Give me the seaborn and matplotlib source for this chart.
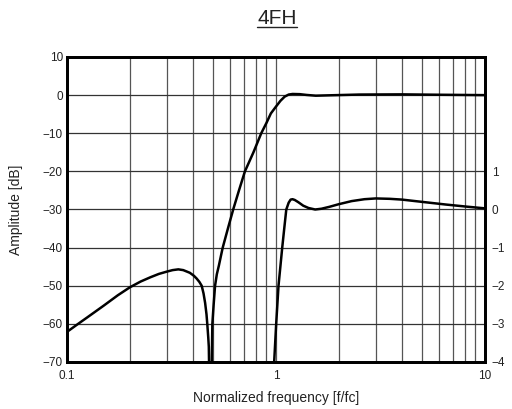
import matplotlib
matplotlib.use("Agg")
import matplotlib.pyplot as plt
import seaborn as sns
import pandas as pd
from matplotlib.ticker import FixedLocator, NullFormatter, FixedFormatter
from matplotlib.lines import Line2D

# ---- data ----
amp_f = [0.1, 0.113, 0.125, 0.15, 0.175, 0.2, 0.225, 0.25, 0.275, 0.3, 0.32,
         0.341, 0.36, 0.387, 0.405, 0.417, 0.43, 0.441, 0.45, 0.458, 0.465,
         0.469, 0.474, 0.477, 0.4875, 0.4935, 0.496, 0.503, 0.511, 0.521, 0.533,
         0.545, 0.556, 0.59, 0.624, 0.665, 0.71, 0.78, 0.85, 0.9, 0.945, 1.0,
         1.05, 1.1, 1.15, 1.2, 1.3, 1.4, 1.55, 1.8, 2.5, 4.0, 6.0, 10.0]
amp_db = [-62.1, -60.0, -58.3, -55.2, -52.5, -50.4, -48.9, -47.8, -46.9, -46.3,
          -45.9, -45.7, -45.9, -46.6, -47.4, -48.1, -49.0, -50.0, -52.0, -54.5,
          -57.5, -60.0, -63.5, -66.0, -100.0, -68.0, -60.0, -55.0, -50.0, -47.0,
          -44.7, -42.2, -40.0, -34.8, -30.0, -25.0, -20.0, -15.0, -10.0, -7.3,
          -4.8, -3.0, -1.5, -0.4, 0.15, 0.3, 0.25, 0.05, -0.15, -0.05, 0.15,
          0.2, 0.1, 0.0]

rip_f = [0.97, 0.98, 1.002, 1.028, 1.071, 1.095, 1.12, 1.15, 1.175, 1.2, 1.23,
         1.28, 1.35, 1.43, 1.54, 1.65, 1.8, 2.0, 2.3, 2.65, 3.0, 3.5, 4.0, 5.0,
         6.5, 8.0, 10.0]
rip_db = [-4.5, -4.0, -3.0, -2.0, -1.0, -0.5, 0.0, 0.18, 0.26, 0.27, 0.25, 0.19,
          0.1, 0.04, 0.0, 0.02, 0.07, 0.14, 0.22, 0.27, 0.29, 0.28, 0.26, 0.2,
          0.13, 0.08, 0.03]

x_major = [0.1, 1, 10]
x_major_labels = ["0.1", "1", "10"]
x_minor = [0.2, 0.3, 0.4, 0.5, 0.6, 0.7, 0.8, 0.9, 2, 3, 4, 5, 6, 7, 8, 9]
y_left_ticks = [10, 0, -10, -20, -30, -40, -50, -60, -70]
y_right_ticks = [1, 0, -1, -2, -3, -4]

title = "4FH"
xlabel = "Normalized frequency [f/fc]"
ylabel = "Amplitude [dB]"

# ---- plotting ----
sns.set_theme(style="white")
plt.rcParams["font.family"] = ["Liberation Sans", "DejaVu Sans"]
plt.rcParams["axes.unicode_minus"] = True

fig = plt.figure(figsize=(5.12, 4.09), dpi=100)
ax = fig.add_axes([67 / 512, 1 - 362 / 409, (485 - 67) / 512, (362 - 57) / 409])
ax.set_xscale("log")

df_amp = pd.DataFrame({"f": amp_f, "db": amp_db})
df_rip = pd.DataFrame({"f": rip_f, "db": rip_db})

sns.lineplot(data=df_amp, x="f", y="db", ax=ax, color="black", lw=1.8,
             estimator=None, sort=False, zorder=5)

ax2 = ax.twinx()
sns.lineplot(data=df_rip, x="f", y="db", ax=ax2, color="black", lw=1.8,
             estimator=None, sort=False)

ax.set_xlim(0.1, 10)
ax.set_ylim(-70, 10)
ax2.set_ylim(-4, 4)

ax.xaxis.set_major_locator(FixedLocator(x_major))
ax.xaxis.set_major_formatter(FixedFormatter(x_major_labels))
ax.xaxis.set_minor_locator(FixedLocator(x_minor))
ax.xaxis.set_minor_formatter(NullFormatter())
ax.yaxis.set_major_locator(FixedLocator(y_left_ticks))
ax2.yaxis.set_major_locator(FixedLocator(y_right_ticks))

ax.grid(True, which="both", axis="x", color="#555555", lw=0.9)
ax.grid(True, which="major", axis="y", color="#333333", lw=0.9)
ax.set_axisbelow(True)
ax2.grid(False)

ax.tick_params(axis="y", which="both", length=0, labelsize=8.5, pad=3,
               colors="#222222")
ax.tick_params(axis="x", which="both", length=0, labelsize=8.5, pad=6,
               colors="#222222")
ax2.tick_params(axis="both", which="both", length=0, labelsize=8.5, pad=5,
                colors="#222222")
ax.set_xlabel(xlabel, fontsize=10, color="#222222", labelpad=6)
ax.set_ylabel(ylabel, fontsize=10, color="#222222", labelpad=14)
ax2.set_ylabel("")
ax2.set_xlabel("")

for a in (ax, ax2):
    for s in a.spines.values():
        s.set_color("black")
        s.set_linewidth(2.0)

t = fig.text(277 / 512, 1 - 18 / 409, title, ha="center", va="center",
             fontsize=15, color="#222222")
fig.canvas.draw()
bb = t.get_window_extent()
W, H = fig.get_size_inches() * fig.dpi
yline = (bb.y0 + 0.5) / H
fig.add_artist(Line2D([bb.x0 / W, bb.x1 / W], [yline, yline],
                      transform=fig.transFigure, color="#222222", lw=1.0))

fig.savefig("out.png", dpi=100)
